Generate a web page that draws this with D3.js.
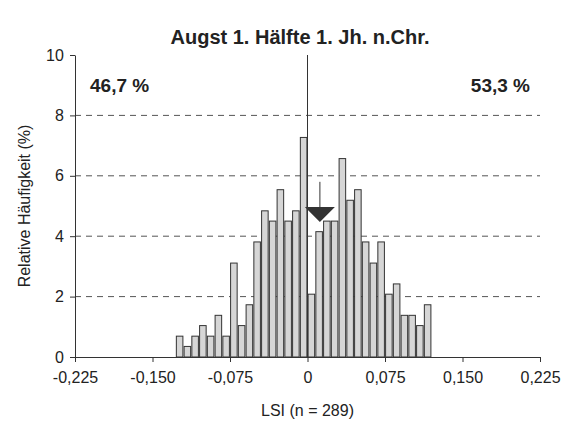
<!DOCTYPE html>
<html><head><meta charset="utf-8">
<script src="https://cdn.jsdelivr.net/npm/d3@7"></script>
<style>body{margin:0;background:#fff}text{font-family:Arial,"Liberation Sans",sans-serif}</style>
</head><body><svg id="c" width="571" height="436"></svg>
<script>
// bin starts (LSI), bin width 0.0075
const binWidth = 0.0075;
const binStarts = d3.range(-17, 16).map(i => i * binWidth);
// relative frequency (%) per bin
const freq = [0.69, 0.35, 0.69, 1.04, 0.69, 1.38, 0.69, 3.11, 1.04, 1.73, 3.81, 4.84, 4.50, 5.54, 4.50, 4.84, 7.27,
              2.08, 4.15, 4.50, 4.50, 6.57, 5.19, 5.54, 3.81, 3.11, 3.81, 2.08, 2.42, 1.38, 1.38, 1.04, 1.73];
const xTicks = [-0.225, -0.15, -0.075, 0, 0.075, 0.15, 0.225];
const yTicks = [0, 2, 4, 6, 8, 10];
const meanLSI = 0.012;

const svg = d3.select('#c');
const x = d3.scaleLinear().domain([-0.225, 0.225]).range([75, 540]);
const y = d3.scaleLinear().domain([0, 10]).range([357, 55]);
const fmt = d => d === 0 ? '0' : d3.format('.3f')(d).replace('.', ',').replace('\u2212', '-');

// dashed gridlines
svg.append('g').selectAll('line').data([2, 4, 6, 8]).join('line')
  .attr('x1', x(-0.225)).attr('x2', x(0.225))
  .attr('y1', d => y(d)).attr('y2', d => y(d))
  .attr('stroke', '#555').attr('stroke-dasharray', '6,5');

// bars
svg.append('g').selectAll('rect').data(binStarts).join('rect')
  .attr('x', (d, i) => x(d) + 0.6)
  .attr('width', x(binWidth) - x(0) - 1.2)
  .attr('y', (d, i) => y(freq[i]))
  .attr('height', (d, i) => y(0) - y(freq[i]))
  .attr('fill', '#d6d6d6').attr('stroke', '#333').attr('stroke-width', 1);

// zero line
svg.append('line').attr('x1', x(0)).attr('x2', x(0)).attr('y1', y(10)).attr('y2', y(0))
  .attr('stroke', '#333');

// axes
const xa = svg.append('g').attr('transform', `translate(0,${y(0)})`)
  .call(d3.axisBottom(x).tickValues(xTicks).tickFormat(fmt).tickSize(5).tickSizeOuter(0));
const ya = svg.append('g').attr('transform', `translate(${x(-0.225)},0)`)
  .call(d3.axisLeft(y).tickValues(yTicks).tickSize(5).tickSizeOuter(0));
[xa, ya].forEach(a => {
  a.selectAll('text').attr('font-size', 16).attr('fill', '#222');
  a.selectAll('line,path').attr('stroke', '#333');
});
xa.selectAll('text').attr('dy', '1.1em');
ya.selectAll('text').attr('dx', '-0.2em');

// mean arrow
const ax = x(meanLSI);
svg.append('line').attr('x1', ax).attr('x2', ax).attr('y1', y(5.8)).attr('y2', y(4.9)).attr('stroke', '#333');
svg.append('path')
  .attr('d', `M${ax - 15},${y(4.97)}L${ax + 15},${y(4.97)}L${ax},${y(4.47)}Z`)
  .attr('fill', '#333');

// texts
svg.append('text').attr('x', 300).attr('y', 44).attr('text-anchor', 'middle')
  .attr('font-size', 20).attr('font-weight', 'bold').attr('fill', '#222').text('Augst 1. Hälfte 1. Jh. n.Chr.');
svg.append('text').attr('x', 90).attr('y', 92).attr('font-size', 19).attr('font-weight', 'bold')
  .attr('fill', '#222').text('46,7 %');
svg.append('text').attr('x', 530).attr('y', 92).attr('text-anchor', 'end').attr('font-size', 19)
  .attr('font-weight', 'bold').attr('fill', '#222').text('53,3 %');
svg.append('text').attr('x', x(0)).attr('y', 416).attr('text-anchor', 'middle').attr('font-size', 16)
  .attr('fill', '#222').text('LSI (n = 289)');
svg.append('text').attr('transform', `translate(30,${y(5)}) rotate(-90)`).attr('text-anchor', 'middle')
  .attr('font-size', 16).attr('fill', '#222').text('Relative Häufigkeit (%)');
</script></body></html>
